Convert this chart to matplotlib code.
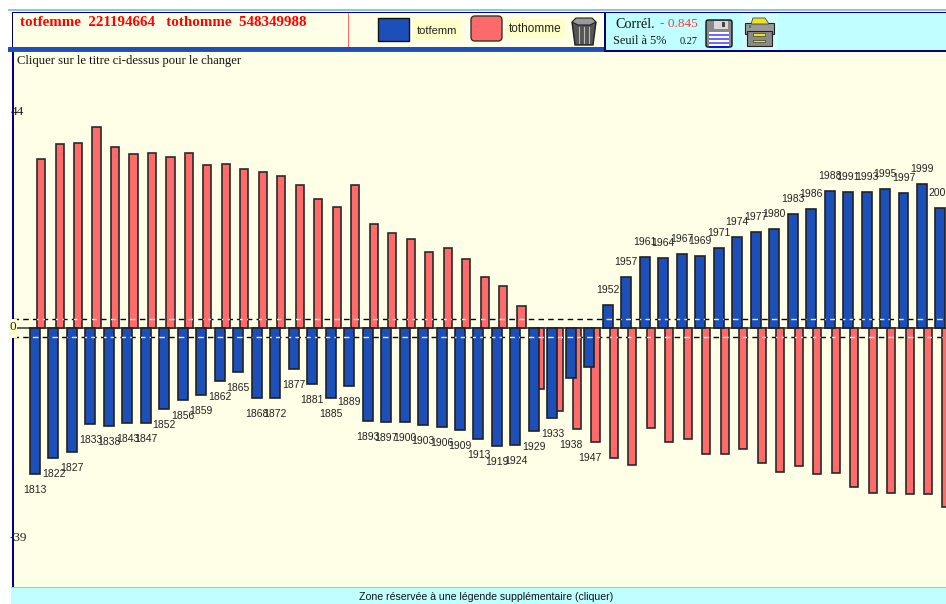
import matplotlib
matplotlib.use("Agg")
import matplotlib.pyplot as plt
from matplotlib.patches import Rectangle, FancyBboxPatch, Polygon
from matplotlib.path import Path
import numpy as np

years = [1813,1822,1827,1833,1838,1843,1847,1852,1856,1859,1862,1865,1868,1872,1877,1881,1885,1889,
         1893,1897,1900,1903,1906,1909,1913,1919,1924,1929,1933,1938,1947,1952,1957,1961,1964,1967,
         1969,1971,1974,1977,1980,1983,1986,1988,1991,1993,1995,1997,1999,2001]
totfemme = [-31.88,-28.38,-27.07,-20.96,-21.40,-20.74,-20.74,-17.69,-15.72,-14.63,-11.57,-9.61,-15.28,-15.28,
            -8.95,-12.23,-15.28,-12.66,-20.31,-20.52,-20.52,-21.18,-21.62,-22.27,-24.24,-25.76,-25.55,-22.49,
            -19.65,-10.92,-8.52,5.02,11.14,15.50,15.28,16.16,15.72,17.47,19.87,20.96,21.62,24.89,25.98,29.91,
            29.69,29.69,30.35,29.48,31.44,26.20]
tothomme = [36.90,40.17,40.39,43.89,39.52,37.99,38.21,37.34,38.21,35.59,35.81,34.72,34.06,33.19,31.22,28.17,
            26.42,31.22,22.71,20.74,19.43,16.59,17.47,15.07,11.14,9.17,4.80,-13.32,-18.12,-22.05,-24.89,-28.38,
            -29.91,-21.83,-24.89,-24.24,-27.51,-27.51,-26.42,-29.48,-31.44,-30.13,-31.88,-31.66,-34.72,-36.03,
            -36.03,-36.24,-36.24,-39.08]
threshold = 1.9
ymax_label, ymin_label = 44, -39

W, H = 946, 604
BLUE, RED, CREAM, CYAN, NAVY = "#1C4FB8", "#FF6B6B", "#FFFFE8", "#BFFFFF", "#000080"
SERIF, SANS = "Liberation Serif", "Liberation Sans"

fig = plt.figure(figsize=(W/100, H/100), dpi=100, facecolor="white")

# chart area, pixel box x 13..946, y 52..587
ax = fig.add_axes([13/W, 1-587/H, (W-13)/W, (587-52)/H], facecolor=CREAM)
x = np.arange(len(years))
ax.set_xlim(-1.19, 49.30)
ax.set_ylim(-56.55, 60.26)
for s in ax.spines.values():
    s.set_visible(False)
ax.set_xticks([]); ax.set_yticks([])

for t in (threshold, -threshold):
    ax.axhline(t, color="black", lw=1, ls=(0, (4, 3)), zorder=1)
ax.axhline(0, color="#333333", lw=1.1, zorder=1.5)

rb = ax.bar(x+0.33, tothomme, width=0.44, color=RED, edgecolor="#2A2A2A", lw=1.2, zorder=2)
bb = ax.bar(x, totfemme, width=0.54, color=BLUE, edgecolor="#222222", lw=1.2, zorder=3)

patches = list(rb.patches) + list(bb.patches)
clip = Path.make_compound_path(*[p.get_path().transformed(p.get_patch_transform()) for p in patches])
for t in (threshold, -threshold):
    ln = ax.axhline(t, color="#E8E8FF", lw=1, ls=(0, (4, 3)), zorder=4)
    ln.set_clip_path(clip, ax.transData)

for xi, yr, f, h in zip(x, years, totfemme, tothomme):
    up = f > 0
    anchor = f if up else min(f, h)
    ax.annotate(str(yr), (xi, anchor), xytext=(0, 15 if up else -16), textcoords="offset pixels",
                ha="center", va="center", fontsize=7.5, family=SANS, color="#222222", zorder=5,
                annotation_clip=False, clip_on=True)

# chrome layer in pixel coordinates
ov = fig.add_axes([0, 0, 1, 1], facecolor="none")
ov.set_xlim(0, W); ov.set_ylim(H, 0); ov.axis("off")

def rect(x0, y0, x1, y1, fc, ec="none", lw=0, z=1):
    ov.add_patch(Rectangle((x0, y0), x1-x0, y1-y0, fc=fc, ec=ec, lw=lw, zorder=z))

# top panels
rect(8, 9, W, 11, "#8CC4E8")
rect(12, 12, 604, 50, CREAM)
rect(604, 12, W, 51, CYAN)
rect(12, 12, W, 13.2, NAVY, z=3)
rect(12, 12, 13.4, 52, "#000050", z=3)
rect(8, 47, 604, 52, BLUE, z=3)
rect(8, 46.5, 604, 47.4, "#555555", z=3)
rect(8, 51.2, 604, 52, "#555555", z=3)
rect(604, 12, 605.5, 52, NAVY, z=3)
rect(604, 50.2, W, 52, NAVY, z=3)
rect(348, 13, 349, 47, RED, z=3)
rect(12, 52, 14, 587, NAVY, z=3)

ov.text(20, 22.5, "totfemme  221194664   tothomme  548349988", color="#FF0000", family=SERIF, weight="bold",
        fontsize=10.8, va="center", ha="left")
ov.text(17, 61, "Cliquer sur le titre ci-dessus pour le changer", color="#111111", family=SERIF,
        fontsize=9.1, va="center", ha="left")

# legend
rect(377.5, 17.5, 408.5, 40.5, BLUE, "#111111", 1, 4)
ov.add_patch(FancyBboxPatch((474, 19), 25, 19, boxstyle="round,pad=3,rounding_size=4", fc=RED, ec="#333333", lw=1, zorder=4))
rect(413, 20, 461, 39, "#FFFFC8", z=2)
rect(506, 19, 565, 38, "#FFFFC8", z=2)
ov.text(417, 30.5, "totfemm", family=SANS, fontsize=8.0, va="center", ha="left", color="#222222", zorder=5)
ov.text(509, 29.5, "tothomme", family=SANS, fontsize=8.5, va="center", ha="left", color="#222222", zorder=5)

# trash can
ov.add_patch(Polygon([(572, 22), (596, 22), (593, 45), (575, 45)], closed=True, fc="#555555", ec="#222222", lw=1, zorder=4))
ov.add_patch(Polygon([(572, 22), (576, 18), (592, 18), (596, 22), (590, 25), (578, 25)], closed=True, fc="#999999", ec="#222222", lw=0.8, zorder=5))
for sx in (579, 584, 589):
    ov.plot([sx, sx], [27, 43], color="#BBBBBB", lw=0.8, zorder=5)

# correlation block
ov.text(615, 24, "Corrél.", family=SERIF, fontsize=10.2, va="center", ha="left", color="#111111", zorder=5)
ov.text(660, 24, "- 0.845", family=SERIF, fontsize=9.6, va="center", ha="left", color="#F04040", zorder=5)
ov.text(613, 41, "Seuil à 5%", family=SERIF, fontsize=8.8, va="center", ha="left", color="#111111", zorder=5)
ov.text(680, 41, "0.27", family=SERIF, fontsize=7.4, va="center", ha="left", color="#111111", zorder=5)

# floppy icon
ov.add_patch(FancyBboxPatch((706, 20), 26, 27, boxstyle="round,pad=0,rounding_size=2", fc="#8A8A8A", ec="#111111", lw=1, zorder=4))
rect(714, 21, 728, 29, "#D8D8D8", z=5)
rect(722, 22, 725, 27, "#444444", z=6)
rect(709, 32, 729, 47, "#FFFFFF", z=5)
for ly, c in ((34, "#6A6AFF"), (38, "#6A6AFF"), (42, "#6A6AFF"), (45.5, "#1010E0")):
    rect(709, ly, 729, ly+2, c, z=6)

# printer icon
rect(742, 14, 778, 50, "#CFFFFF", z=2)
ov.add_patch(Polygon([(751, 24), (753, 18), (765, 18), (769, 24)], closed=True, fc="#F0E020", ec="#444444", lw=0.6, zorder=4))
rect(745, 23, 774, 34, "#9A9A9A", "#222222", 0.8, 3)
rect(747, 31, 772, 46, "#8A8A8A", "#222222", 0.8, 4)
rect(753, 33, 765, 35.5, "#F0E020", "#222222", 0.4, 5)
rect(753, 39.5, 765, 42, "#F0E020", "#222222", 0.4, 5)
rect(749, 25, 751, 28, "#20A020", z=5)

# value labels on axis
ov.text(17, 112, str(ymax_label), family=SERIF, fontsize=9.5, va="center", ha="center", color="#222222", zorder=6)
ov.text(18.5, 538, str(ymin_label), family=SERIF, fontsize=9.5, va="center", ha="center", color="#222222", zorder=6)
rect(9, 319, 17, 338, "#FFFFC8", z=5)
ov.text(13, 327.5, "0", family=SERIF, fontsize=9.5, va="center", ha="center", color="#222222", zorder=6)

# bottom strip
rect(11, 587, W, 588, "#BBBBBB")
rect(11, 588, W, 604, CYAN)
ov.text(486, 596.5, "Zone réservée à une légende supplémentaire (cliquer)", family=SANS, fontsize=7.6,
        va="center", ha="center", color="#111111")

fig.savefig("out.png", dpi=100)
